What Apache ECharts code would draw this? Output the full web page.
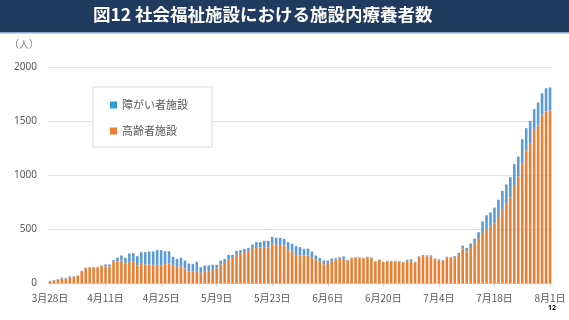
<!DOCTYPE html>
<html>
<head>
<meta charset="utf-8">
<script src="https://cdn.jsdelivr.net/npm/echarts@6/dist/echarts.min.js"></script>
<style>
html,body{margin:0;padding:0;background:#fff;}
#chart{width:569px;height:320px;}
</style>
</head>
<body>
<div id="chart"></div>
<script>
// ---- data ----
const startDate = [3, 28];            // first category: 3月28日
const dayCount = 127;                 // 3/28 .. 8/1 daily
const yTicks = [0, 500, 1000, 1500, 2000];
const seriesNames = ['高齢者施設', '障がい者施設'];

const elderly = [
  19, 26, 34, 47, 45, 60, 62, 70, 115, 142,
  148, 146, 150, 164, 158, 158, 201, 207, 213, 185,
  198, 207, 167, 182, 176, 176, 167, 173, 167, 179,
  185, 167, 154, 160, 139, 114, 114, 114, 99, 114,
  114, 136, 136, 176, 191, 222, 244, 268, 278, 290,
  299, 330, 330, 333, 330, 336, 370, 358, 358, 352,
  309, 302, 265, 262, 259, 259, 244, 222, 207, 176,
  191, 207, 222, 231, 228, 213, 235, 238, 235, 235,
  240, 235, 204, 219, 198, 206, 206, 206, 204, 195,
  210, 213, 195, 245, 254, 251, 251, 226, 216, 213,
  241, 240, 248, 270, 326, 297, 328, 374, 418, 468,
  499, 526, 555, 608, 688, 738, 796, 904, 991, 1114,
  1231, 1299, 1423, 1463, 1562, 1592, 1602
];

const disabled = [
  6, 7, 6, 8, 7, 6, 4, 4, 2, 3,
  3, 5, 4, 3, 18, 18, 15, 31, 46, 53,
  80, 74, 86, 108, 114, 120, 129, 136, 142, 120,
  114, 80, 74, 78, 74, 71, 68, 87, 52, 53,
  53, 37, 37, 37, 37, 43, 21, 34, 31, 31,
  31, 31, 53, 50, 65, 59, 62, 65, 65, 62,
  74, 65, 81, 74, 62, 65, 52, 37, 28, 37,
  22, 24, 13, 13, 22, 6, 3, 6, 6, 3,
  7, 6, 3, 3, 3, 4, 4, 4, 3, 3,
  10, 13, 6, 6, 9, 9, 9, 6, 7, 6,
  7, 6, 7, 13, 24, 34, 42, 41, 57, 108,
  133, 132, 148, 167, 170, 179, 188, 201, 185, 222,
  207, 207, 191, 213, 200, 216, 213
];

// categories (dates)
const monthDays = {3: 31, 4: 30, 5: 31, 6: 30, 7: 31, 8: 31};
const categories = [];
(function () {
  let m = startDate[0], d = startDate[1];
  for (let i = 0; i < dayCount; i++) {
    categories.push(m + '月' + d + '日');
    d++;
    if (d > monthDays[m]) { d = 1; m++; }
  }
})();

const chart = echarts.init(document.getElementById('chart'), null, {renderer: 'canvas'});
const CJK = '"Noto Sans CJK JP", "Noto Sans", sans-serif';

chart.setOption({
  animation: false,
  backgroundColor: '#ffffff',
  textStyle: {fontFamily: CJK},
  graphic: [
    {type: 'rect', left: 0, top: 0, shape: {width: 569, height: 32}, style: {fill: '#213a60'}, z: 10},
    {type: 'rect', left: 0, top: 32, shape: {width: 569, height: 1.5}, style: {fill: '#8fa5c4'}, z: 10},
    {type: 'text', left: 93, top: 6, z: 11,
      style: {text: '図12 社会福祉施設における施設内療養者数', fill: '#ffffff',
        font: 'bold 17.5px "Noto Sans CJK JP", sans-serif'}},
    {type: 'text', left: 9, top: 39, z: 11,
      style: {text: '（人）', fill: '#7f7f7f', font: '10px "Noto Sans CJK JP", sans-serif'}},
    {type: 'text', left: 548, top: 304, z: 11,
      style: {text: '12', fill: '#000000', font: 'bold 7px "Noto Sans", sans-serif'}}
  ],
  legend: {
    orient: 'vertical',
    left: 93,
    top: 87,
    padding: [11, 24, 9, 17],
    itemGap: 12,
    itemWidth: 7,
    itemHeight: 7,
    icon: 'rect',
    borderColor: '#d9d9d9',
    borderWidth: 1,
    backgroundColor: '#ffffff',
    textStyle: {fontSize: 11, color: '#595959', lineHeight: 14, fontFamily: CJK},
    data: [
      {name: '障がい者施設', itemStyle: {color: '#2a9fd3'}},
      {name: '高齢者施設', itemStyle: {color: '#ed7d31'}}
    ]
  },
  grid: {left: 48, right: 17, top: 67.5, bottom: 36.5, containLabel: false},
  xAxis: {
    type: 'category',
    data: categories,
    boundaryGap: true,
    axisLine: {show: true, lineStyle: {color: '#d9d9d9'}},
    axisTick: {show: true, interval: 13, alignWithLabel: true, length: 3, lineStyle: {color: '#d9d9d9'}},
    axisLabel: {interval: 13, color: '#595959', fontSize: 10, margin: 10, fontFamily: CJK}
  },
  yAxis: {
    type: 'value',
    min: yTicks[0],
    max: yTicks[yTicks.length - 1],
    interval: yTicks[1] - yTicks[0],
    axisLine: {show: false},
    axisTick: {show: false},
    axisLabel: {color: '#595959', fontSize: 10, margin: 11, fontFamily: '"Noto Sans", sans-serif',
      formatter: function (v) { return String(v); }},
    splitLine: {lineStyle: {color: '#e3e3e3', width: 1}}
  },
  series: [
    {name: seriesNames[0], type: 'bar', stack: 'total', data: elderly, barWidth: '65%',
      itemStyle: {color: '#ed7d31'}},
    {name: seriesNames[1], type: 'bar', stack: 'total', data: disabled, barWidth: '65%',
      itemStyle: {color: '#5b9bd5'}}
  ]
});
</script>
</body>
</html>
